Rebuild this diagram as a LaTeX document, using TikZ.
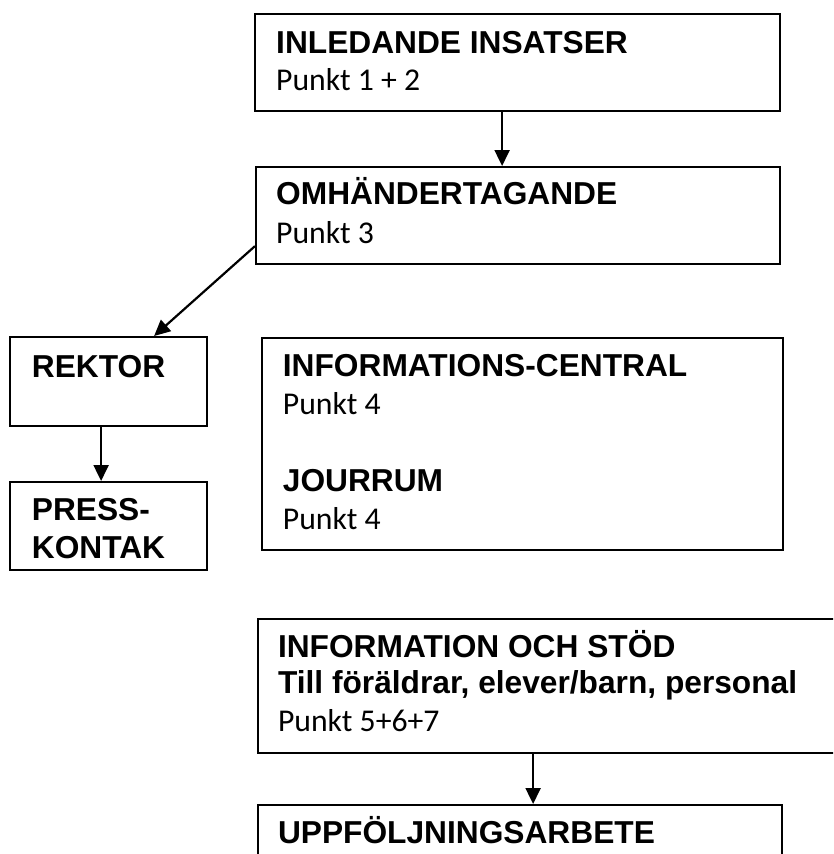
\documentclass[tikz,border=0pt]{standalone}
\usepackage{fontspec}
\setmainfont{Liberation Sans}
\newfontfamily\punktfont{Carlito}
\usetikzlibrary{arrows.meta}

\tikzset{
  box/.style={draw, line width=2.2pt, anchor=north west, inner sep=0pt},
  head/.style={anchor=base west, inner sep=0pt, font=\fontsize{31.7}{38}\selectfont\bfseries},
  punkt/.style={anchor=base west, inner sep=0pt, font=\fontsize{31.7}{38}\selectfont\punktfont},
  arr/.style={-{Triangle[length=16pt,width=15pt]}, line width=2.2pt}
}

\begin{document}
\begin{tikzpicture}[x=1pt, y=-1pt]
    \useasboundingbox (0,0) rectangle (833,854);
    \clip (0,0) rectangle (833,854);

    % Boxes
    \node[box, minimum width=525pt, minimum height=97pt] (insats) at (254,13) {};
    \node[box, minimum width=524pt, minimum height=97pt] (omh) at (255,166) {};
    \node[box, minimum width=197pt, minimum height=89pt] (rektor) at (9,336) {};
    \node[box, minimum width=197pt, minimum height=88pt] (press) at (9,481) {};
    \node[box, minimum width=521pt, minimum height=212pt] (info) at (261,337) {};
    \node[box, minimum width=620pt, minimum height=134pt] (stod) at (257,618) {};
    \node[box, minimum width=524pt, minimum height=100pt] (uppf) at (257,804) {};

    % Texts
    \node[head] (insatsT) at (276,53) {INLEDANDE INSATSER};
    \node[punkt] (insatsP) at (276,90) {Punkt 1 + 2};
    \node[head] (omhT) at (276,204) {OMHÄNDERTAGANDE};
    \node[punkt] (omhP) at (276,243) {Punkt 3};
    \node[head] (rektorT) at (31.7,377) {REKTOR};
    \node[head] (pressT) at (31.7,520) {PRESS-};
    \node[head] (pressU) at (31.7,558) {KONTAK};
    \node[head] (infoT) at (282.7,376.7) {INFORMATIONS-CENTRAL};
    \node[punkt] (infoP) at (282.7,414) {Punkt 4};
    \node[head] (jourT) at (282.7,491.7) {JOURRUM};
    \node[punkt] (jourP) at (282.7,529) {Punkt 4};
    \node[head] (stodT) at (277.8,657) {INFORMATION OCH STÖD};
    \node[head] (stodU) at (277.8,693) {Till föräldrar, elever/barn, personal};
    \node[punkt] (stodP) at (277.8,731.7) {Punkt 5+6+7};
    \node[head] (uppfT) at (277.8,843) {UPPFÖLJNINGSARBETE};

    % Arrows
    \draw[arr] ([xshift=-15.5pt]insats.south) -- ([xshift=-16pt]omh.north);
    \draw[arr] ([yshift=-30.5pt]omh.west) -- ([xshift=45.5pt]rektor.north);
    \draw[arr] ([xshift=-7.5pt]rektor.south) -- ([xshift=-7.5pt]press.north);
    \draw[arr] ([xshift=13pt]uppf.north |- stod.south) -- ([xshift=13pt]uppf.north);
\end{tikzpicture}
\end{document}
